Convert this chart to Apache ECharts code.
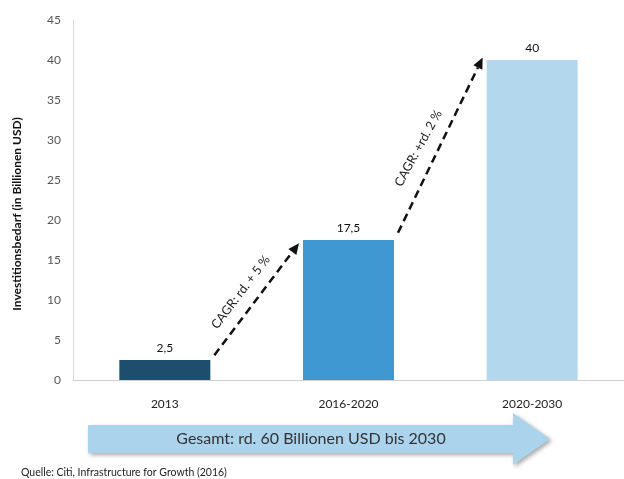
<!DOCTYPE html>
<html>
<head>
<meta charset="utf-8">
<script src="https://cdn.jsdelivr.net/npm/echarts@6/dist/echarts.min.js"></script>
<style>
  html, body { margin: 0; padding: 0; background: #fff; }
  #chart { width: 624px; height: 479px; }
</style>
</head>
<body>
<div id="chart"></div>
<script>
// Investment need per period (trillion USD)
const categories = ['2013', '2016-2020', '2020-2030'];
const values = [2.5, 17.5, 40];
const barColors = ['#1d4e6d', '#3f98d2', '#b3d8ee'];
const valueLabels = ['2,5', '17,5', '40'];
const yTicks = [0, 5, 10, 15, 20, 25, 30, 35, 40, 45];

// Growth annotations: [fromCategory, fromValue, toCategory, toValue, label]
const growthArrows = [
  [0, 3.1, 1, 17.1, 'CAGR: rd. + 5 %'],
  [1, 18.4, 2, 40.3, 'CAGR: +rd. 2 %']
];
const totalText = 'Gesamt: rd. 60 Billionen USD bis 2030';
const sourceText = 'Quelle: Citi, Infrastructure for Growth (2016)';
const yTitle = 'Investitionsbedarf (in Billionen USD)';

const FONT = 'Lato, "Open Sans", sans-serif';
const chart = echarts.init(document.getElementById('chart'));

chart.setOption({
  animation: false,
  grid: { left: 73, right: 0, top: 20, bottom: 99 },
  xAxis: {
    type: 'category',
    data: categories,
    axisLine: { lineStyle: { color: '#d0d0d0' } },
    axisTick: { show: false },
    axisLabel: { color: '#222', fontSize: 12, fontFamily: FONT, margin: 18 }
  },
  yAxis: {
    type: 'value',
    min: yTicks[0],
    max: yTicks[yTicks.length - 1],
    interval: 5,
    axisLine: { show: true, lineStyle: { color: '#d9d9d9' } },
    axisTick: { show: false },
    splitLine: { show: false },
    axisLabel: { color: '#555', fontSize: 12, fontFamily: FONT, margin: 12 }
  },
  series: [{
    type: 'bar',
    barWidth: 91,
    data: values.map((v, i) => ({ value: v, itemStyle: { color: barColors[i] } })),
    label: {
      show: true,
      position: 'top',
      distance: 6,
      color: '#111',
      fontSize: 12,
      fontFamily: FONT,
      formatter: p => valueLabels[p.dataIndex]
    }
  }]
});

// Dashed growth arrows placed from data coordinates
const halfBar = 91 / 2 + 4;
const textShift = [[-16, -7], [-22, 3]];
const textTilt = [0, 3];
const graphics = [];
growthArrows.forEach(([c0, v0, c1, v1, text], i) => {
  const p0 = chart.convertToPixel({ seriesIndex: 0 }, [c0, v0]);
  const p1 = chart.convertToPixel({ seriesIndex: 0 }, [c1, v1]);
  const x0 = p0[0] + halfBar, y0 = p0[1];
  const x1 = p1[0] - halfBar, y1 = p1[1];
  const ang = Math.atan2(y1 - y0, x1 - x0);
  const head = 11, hw = 5;
  const bx = x1 - head * Math.cos(ang), by = y1 - head * Math.sin(ang);
  graphics.push({
    type: 'line',
    shape: { x1: x0, y1: y0, x2: bx, y2: by },
    style: { stroke: '#111', lineWidth: 2.5, lineDash: [8, 5] }
  });
  graphics.push({
    type: 'polygon',
    shape: { points: [
      [x1, y1],
      [bx + hw * Math.sin(ang), by - hw * Math.cos(ang)],
      [bx - hw * Math.sin(ang), by + hw * Math.cos(ang)]
    ] },
    style: { fill: '#111' }
  });
  // label roughly parallel to the arrow, on its upper-left side
  const mx = (x0 + x1) / 2, my = (y0 + y1) / 2;
  graphics.push({
    type: 'text',
    x: mx + textShift[i][0],
    y: my + textShift[i][1],
    rotation: -ang - textTilt[i] * Math.PI / 180,
    style: {
      text: text,
      fill: '#222',
      fontSize: 12.5,
      fontFamily: FONT,
      align: 'center',
      verticalAlign: 'middle'
    }
  });
});

// Y axis title
graphics.push({
  type: 'text',
  x: 17, y: 214,
  rotation: Math.PI / 2,
  style: {
    text: yTitle, fill: '#111', fontSize: 12, fontWeight: 'bold', fontFamily: FONT,
    align: 'center', verticalAlign: 'middle'
  }
});

// Total arrow below the axis
graphics.push({
  type: 'polygon',
  shape: { points: [[88, 425], [513, 425], [513, 413], [550, 439], [513, 465], [513, 453], [88, 453]] },
  style: {
    fill: '#acd3ec',
    shadowBlur: 4,
    shadowOffsetX: 2,
    shadowOffsetY: 2,
    shadowColor: 'rgba(0,0,0,0.35)'
  }
});
graphics.push({
  type: 'text',
  x: 311, y: 439,
  style: {
    text: totalText, fill: '#333', fontSize: 16, fontFamily: FONT,
    align: 'center', verticalAlign: 'middle'
  }
});
graphics.push({
  type: 'text',
  x: 21, y: 473,
  style: {
    text: sourceText, fill: '#222', fontSize: 10.5, fontFamily: FONT,
    align: 'left', verticalAlign: 'middle'
  }
});

chart.setOption({ graphic: graphics });
</script>
</body>
</html>
